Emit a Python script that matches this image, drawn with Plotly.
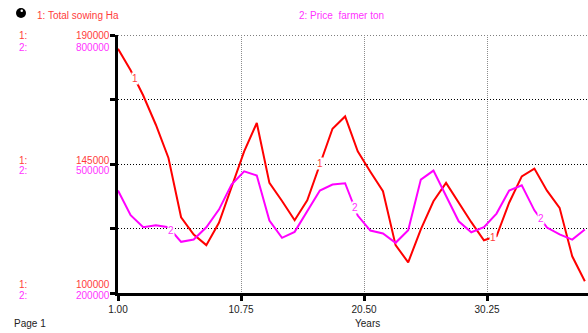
import numpy as np
import plotly.graph_objects as go

years = list(range(1, 39))
total_sowing_ha = [185200, 177700, 168900, 158700, 147100, 126400, 120400, 116700, 124500, 137000,
                   149400, 159300, 138400, 132100, 125400, 132300, 145100, 157300, 161600, 149400,
                   142300, 135500, 116700, 110700, 122200, 132000, 138400, 131500, 124700, 118400,
                   119800, 131500, 140700, 143400, 135700, 129700, 112800, 104100]
price_farmer_ton = [438200, 380800, 352900, 357600, 352900, 319000, 324300, 352900, 394000, 452100,
                    483000, 473100, 368500, 328300, 342200, 390100, 438200, 452100, 455200, 380100,
                    345200, 338300, 316700, 345900, 463800, 484700, 424200, 366800, 341300, 352900,
                    384700, 438200, 450500, 392200, 352200, 336400, 324300, 347600]

x_tickvals = [1.0, 10.75, 20.5, 30.25]
x_ticktext = ["1.00", "10.75", "20.50", "30.25"]
y1_range = [100000, 190000]
y2_range = [200000, 800000]
y1_ticks = [100000, 122500, 145000, 167500, 190000]
left_labels = [("190000", "800000"), ("145000", "500000"), ("100000", "200000")]
series1_name = "1: Total sowing Ha"
series2_name = "2: Price&nbsp; farmer ton"
label1_at = [2.32, 17.0, 30.7]
label2_at = [5.23, 19.75, 34.5]

RED = "#ff0000"
MAG = "#ff00ff"
RED_T = "#ff3b3b"
MAG_T = "#ff33ff"
W, H = 588, 333
L, R, T, B = 118, 0, 35, 40
PW = W - L - R
PH = H - T - B


def px(x):
    return (x - L) / PW


def py(y):
    return (H - B - y) / PH


fig = go.Figure()
fig.add_trace(go.Scatter(x=years, y=total_sowing_ha, mode="lines",
                         line=dict(color=RED, width=2), yaxis="y", showlegend=False,
                         hoverinfo="skip"))
fig.add_trace(go.Scatter(x=years, y=price_farmer_ton, mode="lines",
                         line=dict(color=MAG, width=2), yaxis="y2", showlegend=False,
                         hoverinfo="skip"))

ann = []
font = dict(family="Liberation Sans, Arial, sans-serif", size=10)
for xv in label1_at:
    yv = float(np.interp(xv, years, total_sowing_ha))
    ann.append(dict(x=xv, y=yv, xref="x", yref="y", text="1", showarrow=False,
                    font=dict(font, color=RED_T, size=10), bgcolor="white",
                    borderpad=0))
for xv in label2_at:
    yv = float(np.interp(xv, years, price_farmer_ton))
    ann.append(dict(x=xv, y=yv, xref="x", yref="y2", text="2", showarrow=False,
                    font=dict(font, color=MAG_T, size=10), bgcolor="white",
                    borderpad=0))

# left scale labels
rows = [(35.7, 47.7), (160.7, 170.7), (284.3, 295.6)]
for (v1, v2), (yr, ym) in zip(left_labels, rows):
    ann.append(dict(x=px(17), y=py(yr), xref="paper", yref="paper", text="1:",
                    xanchor="left", yanchor="middle", showarrow=False,
                    font=dict(font, color=RED_T)))
    ann.append(dict(x=px(17), y=py(ym), xref="paper", yref="paper", text="2:",
                    xanchor="left", yanchor="middle", showarrow=False,
                    font=dict(font, color=MAG_T)))
    ann.append(dict(x=px(112), y=py(yr), xref="paper", yref="paper", text=v1,
                    xanchor="right", yanchor="middle", showarrow=False,
                    font=dict(font, color=RED_T)))
    ann.append(dict(x=px(112), y=py(ym), xref="paper", yref="paper", text=v2,
                    xanchor="right", yanchor="middle", showarrow=False,
                    font=dict(font, color=MAG_T)))

ann.append(dict(x=px(35), y=py(15.7), xref="paper", yref="paper", text=series1_name,
                xanchor="left", yanchor="middle", showarrow=False,
                font=dict(font, color=RED_T)))
ann.append(dict(x=px(297), y=py(15.7), xref="paper", yref="paper", text=series2_name,
                xanchor="left", yanchor="middle", showarrow=False,
                font=dict(font, color=MAG_T)))
ann.append(dict(x=px(12), y=py(323.5), xref="paper", yref="paper", text="Page 1",
                xanchor="left", yanchor="middle", showarrow=False,
                font=dict(font, color="#222222")))
ann.append(dict(x=px(367), y=py(323.5), xref="paper", yref="paper", text="Years",
                xanchor="center", yanchor="middle", showarrow=False,
                font=dict(font, color="#222222")))

shapes = [
    dict(type="circle", xref="paper", yref="paper", x0=px(16), x1=px(26),
         y0=py(18), y1=py(8), fillcolor="black", line=dict(color="black", width=0)),
    dict(type="circle", xref="paper", yref="paper", x0=px(20.5), x1=px(23),
         y0=py(12), y1=py(9.5), fillcolor="white", line=dict(color="white", width=0)),
    dict(type="line", xref="paper", yref="y", x0=0, x1=1, y0=y1_range[1], y1=y1_range[1],
         line=dict(color="black", width=1, dash="1px,2px"), layer="below"),
]

fig.update_layout(
    width=W, height=H,
    margin=dict(l=L, r=R, t=T, b=B, pad=0),
    paper_bgcolor="white", plot_bgcolor="white",
    annotations=ann, shapes=shapes, hovermode=False,
    font=dict(family="Liberation Sans, Arial, sans-serif", size=10, color="#222222"),
    xaxis=dict(range=[1, 38.25], tickvals=x_tickvals, ticktext=x_ticktext,
               showline=True, linecolor="black", linewidth=3,
               ticks="outside", ticklen=5, tickwidth=3, tickcolor="black",
               showgrid=True, gridcolor="#8c8c8c", griddash="1px,1px", gridwidth=1,
               zeroline=False, tickfont=dict(size=10, color="#222222")),
    yaxis=dict(range=y1_range, tickvals=y1_ticks, showticklabels=False,
               showline=True, linecolor="black", linewidth=3,
               ticks="outside", ticklen=5, tickwidth=3, tickcolor="black",
               showgrid=True, gridcolor="black", griddash="1px,2px", gridwidth=1,
               zeroline=False),
    yaxis2=dict(range=y2_range, overlaying="y", side="left", showgrid=False,
                showline=False, showticklabels=False, ticks="", zeroline=False),
)

fig.write_html("out.html", config={"displayModeBar": False, "staticPlot": True},
               post_script="document.body.style.margin='0px';document.body.style.overflow='hidden';")
